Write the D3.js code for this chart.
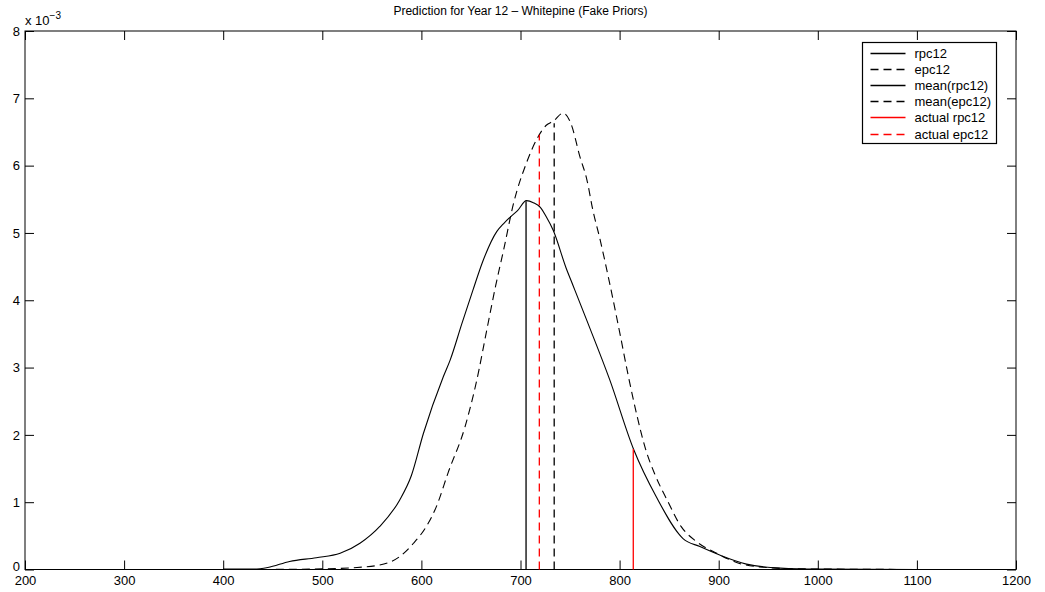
<!DOCTYPE html>
<html lang="en">
  <head>
    <title>Prediction for Year 12 - Whitepine (Fake Priors)</title>
    <script src="https://d3js.org/d3.v7.min.js"></script>
    <style>
      body { margin: 0; background: #fff; }
      text { font-family: "Liberation Sans", Arial, Helvetica, sans-serif; fill: #000; }
    </style>
  </head>
  <body>
    <div id="content"></div>
    <script>
      // density values are in units of 1e-3
      var rpcX = [400, 430, 445, 467, 494, 518, 538, 558, 578, 590, 602, 622, 629, 641, 652, 662, 676, 683, 690, 697, 706, 713, 720, 726, 733, 746, 753, 768, 790, 814, 837, 864, 881, 901, 928, 962, 1000, 1100];
      var rpcY = [0.005, 0.005, 0.03, 0.12, 0.175, 0.24, 0.39, 0.64, 1.03, 1.40, 2.02, 2.86, 3.11, 3.66, 4.15, 4.58, 5.02, 5.14, 5.24, 5.33, 5.48, 5.45, 5.38, 5.24, 5.04, 4.48, 4.22, 3.66, 2.82, 1.79, 1.08, 0.46, 0.34, 0.215, 0.08, 0.02, 0.005, 0];

      var epcX = [440, 500, 535, 558, 578, 592, 605, 615, 627, 644, 656, 666, 675, 683, 693, 706, 716, 726, 733, 743, 751, 760, 767, 773, 780, 790, 800, 809, 817, 826, 836, 848, 862, 878, 898, 921, 948, 980, 1100];
      var epcY = [0, 0.01, 0.03, 0.067, 0.19, 0.39, 0.64, 0.93, 1.44, 2.12, 2.82, 3.56, 4.22, 4.75, 5.44, 6.04, 6.38, 6.60, 6.66, 6.78, 6.62, 6.13, 5.79, 5.34, 4.92, 4.25, 3.53, 2.86, 2.32, 1.80, 1.40, 1.03, 0.64, 0.41, 0.24, 0.09, 0.03, 0.01, 0];

      // vertical markers: mean(rpc12), mean(epc12), actual rpc12, actual epc12
      var markerNames = ["mean(rpc12)", "mean(epc12)", "actual rpc12", "actual epc12"];
      var markerX = [705.6, 734, 813.8, 719];
      var markerTop = [5.47, 6.63, 1.79, 6.46];

      var legendLabels = ["rpc12", "epc12", "mean(rpc12)", "mean(epc12)", "actual rpc12", "actual epc12"];
      var legendColors = ["#000", "#000", "#000", "#000", "#f00", "#f00"];
      var legendDashed = [false, true, false, true, false, true];

      var xTicks = [200, 300, 400, 500, 600, 700, 800, 900, 1000, 1100, 1200];
      var yTicks = [0, 1, 2, 3, 4, 5, 6, 7, 8];

      var width = 1045;
      var height = 592;
      var dash = "8,5";

      var x = d3.scaleLinear().domain([200, 1200]).range([25, 1016]);
      var y = d3.scaleLinear().domain([0, 8]).range([569.5, 31]);

      var svg = d3
        .select("#content")
        .append("svg")
        .attr("width", width)
        .attr("height", height);

      // ticks inside the box on all four sides
      var tickLen = 9;
      svg.append("g")
        .attr("transform", "translate(0," + y(0) + ")")
        .call(d3.axisBottom(x).tickValues(xTicks).tickFormat(d3.format("d")).tickSizeInner(-tickLen).tickSizeOuter(0).tickPadding(6))
        .call(function (g) { g.select(".domain").remove(); })
        .selectAll("text")
        .style("font-size", "13px");
      svg.append("g")
        .attr("transform", "translate(0," + y(8) + ")")
        .call(d3.axisTop(x).tickValues(xTicks).tickSizeInner(-tickLen).tickSizeOuter(0).tickFormat(""))
        .call(function (g) { g.select(".domain").remove(); });
      svg.append("g")
        .attr("transform", "translate(" + x(200) + ",0)")
        .call(d3.axisLeft(y).tickValues(yTicks).tickSizeInner(-tickLen).tickSizeOuter(0).tickPadding(5))
        .call(function (g) { g.select(".domain").remove(); })
        .selectAll("text")
        .style("font-size", "13px")
        .attr("dy", function (d) { return d === 0 ? "0.1em" : "0.32em"; });
      svg.append("g")
        .attr("transform", "translate(" + x(1200) + ",0)")
        .call(d3.axisRight(y).tickValues(yTicks).tickSizeInner(-tickLen).tickSizeOuter(0).tickFormat(""))
        .call(function (g) { g.select(".domain").remove(); });

      svg.selectAll(".tick line").attr("stroke", "#000");

      svg.append("rect")
        .attr("x", x(200))
        .attr("y", y(8))
        .attr("width", x(1200) - x(200))
        .attr("height", y(0) - y(8))
        .attr("fill", "none")
        .attr("stroke", "#000")
        .attr("stroke-width", 1);

      // exponent label
      var expo = svg.append("text")
        .attr("x", 25)
        .attr("y", 25)
        .style("font-size", "13px");
      expo.append("tspan").text("x 10");
      expo.append("tspan").attr("dy", -6).style("font-size", "10px").text("\u22123");

      svg.append("text")
        .attr("x", (x(200) + x(1200)) / 2)
        .attr("y", 15)
        .attr("text-anchor", "middle")
        .style("font-size", "12px")
        .text("Prediction for Year 12 \u2013 Whitepine (Fake Priors)");

      var line = d3.line()
        .x(function (d) { return x(d[0]); })
        .y(function (d) { return y(d[1]); })
        .curve(d3.curveMonotoneX);

      svg.append("path")
        .datum(d3.zip(rpcX, rpcY))
        .attr("d", line)
        .attr("fill", "none")
        .attr("stroke", "#000")
        .attr("stroke-width", 1.1);

      svg.append("path")
        .datum(d3.zip(epcX, epcY))
        .attr("d", line)
        .attr("fill", "none")
        .attr("stroke", "#000")
        .attr("stroke-width", 1.1)
        .attr("stroke-dasharray", dash);

      var markerColors = ["#000", "#000", "#f00", "#f00"];
      var markerDashed = [false, true, false, true];
      svg.selectAll(".marker")
        .data(markerNames)
        .enter()
        .append("line")
        .attr("class", "marker")
        .attr("x1", function (d, i) { return x(markerX[i]); })
        .attr("x2", function (d, i) { return x(markerX[i]); })
        .attr("y1", y(0))
        .attr("y2", function (d, i) { return y(markerTop[i]); })
        .attr("stroke", function (d, i) { return markerColors[i]; })
        .attr("stroke-width", 1.3)
        .attr("stroke-dasharray", function (d, i) { return markerDashed[i] ? dash : null; });

      // legend
      var legend = svg.append("g").attr("transform", "translate(862.5,42.5)");
      legend.append("rect")
        .attr("width", 134)
        .attr("height", 101)
        .attr("fill", "#fff")
        .attr("stroke", "#000")
        .attr("stroke-width", 1.2);

      var rows = legend.selectAll(".row")
        .data(legendLabels)
        .enter()
        .append("g")
        .attr("class", "row")
        .attr("transform", function (d, i) { return "translate(0," + Math.round(10.5 + i * 16.2) + ")"; });

      rows.append("line")
        .attr("x1", 8)
        .attr("x2", 43)
        .attr("stroke", function (d, i) { return legendColors[i]; })
        .attr("stroke-width", 1.3)
        .attr("stroke-dasharray", function (d, i) { return legendDashed[i] ? dash : null; });

      rows.append("text")
        .attr("x", 52)
        .attr("y", 4.5)
        .style("font-size", "13px")
        .text(function (d) { return d; });
    </script>
  </body>
</html>
